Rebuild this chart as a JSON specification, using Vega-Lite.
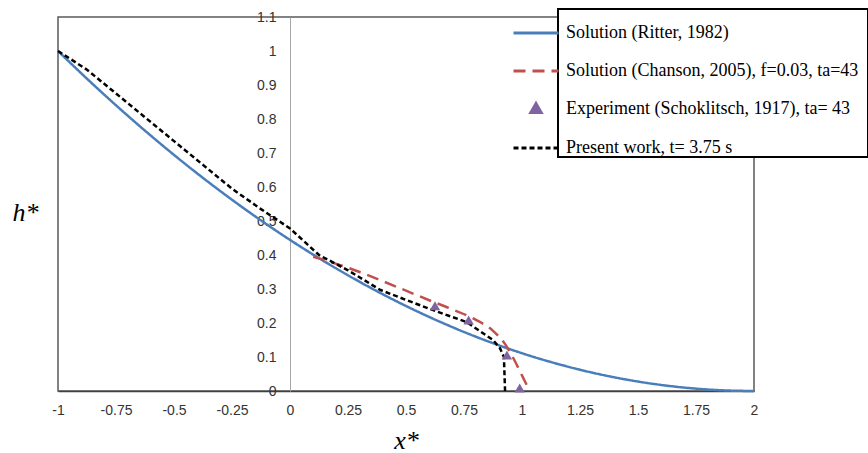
{
  "$schema": "https://vega.github.io/schema/vega-lite/v6.json",
  "width": 696,
  "height": 374,
  "autosize": {"type": "none"},
  "padding": {"left": 58, "top": 17, "right": 114, "bottom": 62},
  "background": "white",
  "config": {
    "view": {"stroke": "#595959", "strokeWidth": 1.5},
    "legend": {
      "orient": "none",
      "legendX": 500,
      "legendY": -8,
      "title": null,
      "direction": "vertical",
      "strokeColor": "black",
      "strokeWidth": 2,
      "fillColor": "white",
      "padding": 0,
      "labelFont": "Liberation Serif",
      "labelFontSize": 18,
      "labelColor": "black",
      "labelLimit": 500,
      "labelOffset": 6,
      "symbolSize": 2025,
      "symbolType": "stroke",
      "symbolStrokeWidth": 3,
      "symbolOffset": -46,
      "symbolOpacity": 1,
      "rowPadding": 5
    }
  },
  "datasets": {
    "ritter": [
      {"x": -1, "h": 1, "series": "ritter"},
      {"x": -0.875, "h": 0.9184, "series": "ritter"},
      {"x": -0.75, "h": 0.8403, "series": "ritter"},
      {"x": -0.625, "h": 0.7656, "series": "ritter"},
      {"x": -0.5, "h": 0.6944, "series": "ritter"},
      {"x": -0.375, "h": 0.6267, "series": "ritter"},
      {"x": -0.25, "h": 0.5625, "series": "ritter"},
      {"x": -0.125, "h": 0.5017, "series": "ritter"},
      {"x": 0, "h": 0.4444, "series": "ritter"},
      {"x": 0.125, "h": 0.3906, "series": "ritter"},
      {"x": 0.25, "h": 0.3403, "series": "ritter"},
      {"x": 0.375, "h": 0.2934, "series": "ritter"},
      {"x": 0.5, "h": 0.25, "series": "ritter"},
      {"x": 0.625, "h": 0.2101, "series": "ritter"},
      {"x": 0.75, "h": 0.1736, "series": "ritter"},
      {"x": 0.875, "h": 0.1406, "series": "ritter"},
      {"x": 1, "h": 0.1111, "series": "ritter"},
      {"x": 1.125, "h": 0.0851, "series": "ritter"},
      {"x": 1.25, "h": 0.0625, "series": "ritter"},
      {"x": 1.375, "h": 0.0434, "series": "ritter"},
      {"x": 1.5, "h": 0.0278, "series": "ritter"},
      {"x": 1.625, "h": 0.0156, "series": "ritter"},
      {"x": 1.75, "h": 0.0069, "series": "ritter"},
      {"x": 1.875, "h": 0.0017, "series": "ritter"},
      {"x": 2, "h": 0, "series": "ritter"}
    ],
    "chanson": [
      {"x": 0.1, "h": 0.395, "series": "chanson"},
      {"x": 0.2, "h": 0.374, "series": "chanson"},
      {"x": 0.3, "h": 0.35, "series": "chanson"},
      {"x": 0.4, "h": 0.323, "series": "chanson"},
      {"x": 0.5, "h": 0.295, "series": "chanson"},
      {"x": 0.6, "h": 0.267, "series": "chanson"},
      {"x": 0.7, "h": 0.24, "series": "chanson"},
      {"x": 0.8, "h": 0.21, "series": "chanson"},
      {"x": 0.875, "h": 0.177, "series": "chanson"},
      {"x": 0.925, "h": 0.14, "series": "chanson"},
      {"x": 0.96, "h": 0.1, "series": "chanson"},
      {"x": 0.99, "h": 0.06, "series": "chanson"},
      {"x": 1.015, "h": 0.025, "series": "chanson"},
      {"x": 1.035, "h": 0, "series": "chanson"}
    ],
    "experiment": [
      {"x": 0.625, "h": 0.248, "series": "experiment"},
      {"x": 0.77, "h": 0.206, "series": "experiment"},
      {"x": 0.935, "h": 0.103, "series": "experiment"},
      {"x": 0.99, "h": 0.006, "series": "experiment"}
    ],
    "present": [
      {"x": -1, "h": 1, "series": "present"},
      {"x": -0.875, "h": 0.945, "series": "present"},
      {"x": -0.75, "h": 0.875, "series": "present"},
      {"x": -0.625, "h": 0.805, "series": "present"},
      {"x": -0.5, "h": 0.735, "series": "present"},
      {"x": -0.375, "h": 0.665, "series": "present"},
      {"x": -0.25, "h": 0.595, "series": "present"},
      {"x": -0.125, "h": 0.535, "series": "present"},
      {"x": 0, "h": 0.478, "series": "present"},
      {"x": 0.125, "h": 0.4, "series": "present"},
      {"x": 0.25, "h": 0.355, "series": "present"},
      {"x": 0.39, "h": 0.297, "series": "present"},
      {"x": 0.5, "h": 0.268, "series": "present"},
      {"x": 0.62, "h": 0.237, "series": "present"},
      {"x": 0.76, "h": 0.203, "series": "present"},
      {"x": 0.875, "h": 0.15, "series": "present"},
      {"x": 0.905, "h": 0.126, "series": "present"},
      {"x": 0.922, "h": 0.1, "series": "present"},
      {"x": 0.927, "h": 0, "series": "present"}
    ]
  },
  "encoding": {
    "x": {
      "field": "x",
      "type": "quantitative",
      "scale": {"domain": [-1, 2], "nice": false, "zero": false},
      "axis": {
        "title": "x*",
        "values": [-1, -0.75, -0.5, -0.25, 0, 0.25, 0.5, 0.75, 1, 1.25, 1.5, 1.75, 2],
        "labelExpr": "'' + datum.value",
        "grid": false,
        "ticks": false,
        "labelFlush": false,
        "labelOverlap": false,
        "domainColor": "#404040",
        "domainWidth": 1.5,
        "labelFont": "Liberation Sans",
        "labelFontSize": 14,
        "labelColor": "#333333",
        "labelPadding": 12,
        "titleFont": "Liberation Serif",
        "titleFontStyle": "italic",
        "titleFontWeight": "normal",
        "titleFontSize": 26,
        "titleColor": "black",
        "titleBaseline": "alphabetic",
        "titleY": 57
      }
    },
    "y": {
      "field": "h",
      "type": "quantitative",
      "scale": {"domain": [0, 1.1], "nice": false},
      "axis": {
        "title": "h*",
        "values": [0, 0.1, 0.2, 0.3, 0.4, 0.5, 0.6, 0.7, 0.8, 0.9, 1, 1.1],
        "labelExpr": "'' + datum.value",
        "offset": -232,
        "grid": false,
        "ticks": false,
        "labelFlush": false,
        "labelOverlap": false,
        "domainColor": "#a6a6a6",
        "domainWidth": 1,
        "labelFont": "Liberation Sans",
        "labelFontSize": 14,
        "labelColor": "#333333",
        "labelPadding": 14,
        "titleFont": "Liberation Serif",
        "titleFontStyle": "italic",
        "titleFontWeight": "normal",
        "titleFontSize": 26,
        "titleColor": "black",
        "titleAngle": 0,
        "titleAlign": "center",
        "titleBaseline": "alphabetic",
        "titleX": -265,
        "titleY": 203
      }
    },
    "color": {
      "field": "series",
      "type": "nominal",
      "scale": {
        "domain": ["ritter", "chanson", "experiment", "present"],
        "range": ["#4a7ebb", "#c0504d", "#8064a2", "#000000"]
      },
      "legend": {
        "labelExpr": "datum.value === 'ritter' ? 'Solution (Ritter, 1982)' : datum.value === 'chanson' ? 'Solution (Chanson, 2005),  f=0.03,  ta=43' : datum.value === 'experiment' ? 'Experiment (Schoklitsch, 1917),  ta= 43' : 'Present work,  t= 3.75  s'"
      }
    },
    "strokeDash": {
      "field": "series",
      "type": "nominal",
      "scale": {
        "domain": ["ritter", "chanson", "experiment", "present"],
        "range": [[1, 0], [12, 7], [1, 0], [5, 3]]
      },
      "legend": {
        "labelExpr": "datum.value === 'ritter' ? 'Solution (Ritter, 1982)' : datum.value === 'chanson' ? 'Solution (Chanson, 2005),  f=0.03,  ta=43' : datum.value === 'experiment' ? 'Experiment (Schoklitsch, 1917),  ta= 43' : 'Present work,  t= 3.75  s'"
      }
    }
  },
  "layer": [
    {
      "data": {"name": "ritter"},
      "mark": {"type": "line", "strokeWidth": 2.5, "interpolate": "monotone"}
    },
    {
      "data": {"name": "chanson"},
      "mark": {"type": "line", "strokeWidth": 2.5, "interpolate": "monotone"}
    },
    {
      "data": {"name": "present"},
      "mark": {"type": "line", "strokeWidth": 2.5}
    },
    {
      "data": {"name": "experiment"},
      "mark": {"type": "point", "filled": true, "size": 2025, "opacity": 1},
      "encoding": {
        "shape": {
          "field": "series",
          "type": "nominal",
          "scale": {
            "domain": ["ritter", "chanson", "experiment", "present"],
            "range": ["stroke", "stroke", "M0,-0.24L0.23,0.16L-0.23,0.16Z", "stroke"]
          },
          "legend": {
            "labelExpr": "datum.value === 'ritter' ? 'Solution (Ritter, 1982)' : datum.value === 'chanson' ? 'Solution (Chanson, 2005),  f=0.03,  ta=43' : datum.value === 'experiment' ? 'Experiment (Schoklitsch, 1917),  ta= 43' : 'Present work,  t= 3.75  s'"
          }
        }
      }
    }
  ]
}
